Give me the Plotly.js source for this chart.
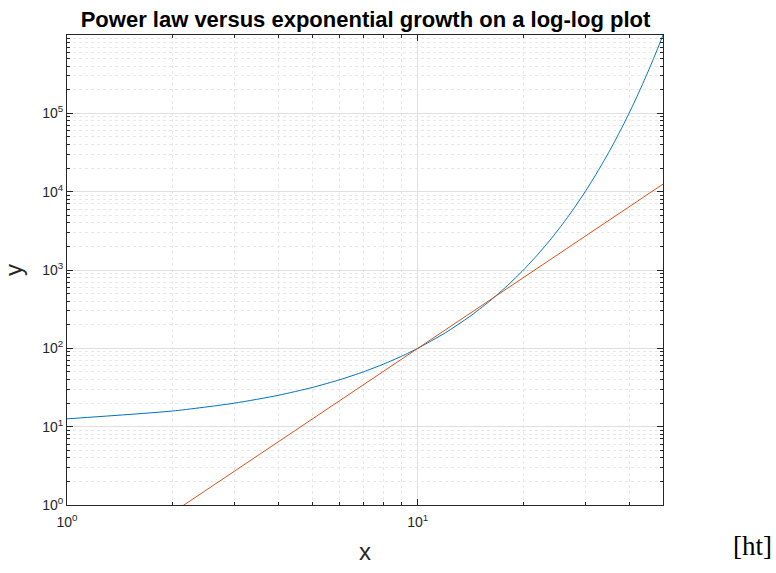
<!DOCTYPE html>
<html>
<head>
<meta charset="utf-8">
<script src="https://cdn.plot.ly/plotly-3.0.1.min.js"></script>
<style>html,body{margin:0;padding:0;background:#fff;}#chart{width:776px;height:573px;}</style>
</head>
<body>
<div id="chart"></div>
<script>
// Exponential growth series (blue)
const xExp = [1, 2, 3, 4, 5, 6, 7, 8, 9, 10, 12, 14, 16, 18, 20, 22, 24, 26, 28, 30, 32, 34, 36, 38, 40, 42, 44, 46, 48, 50];
const yExp = [12.59, 15.85, 19.95, 25.12, 31.62, 39.81, 50.12, 63.10, 79.43, 100, 158.5, 251.2, 398.1, 631.0, 1000, 1585, 2512, 3981, 6310, 10000, 15850, 25120, 39810, 63100, 100000, 158500, 251200, 398100, 631000, 1000000];
// Power law series (red), a straight line on log-log axes
const xPow = [1, 2, 5, 10, 20, 50];
const yPow = [0.1, 0.8, 12.5, 100, 800, 12500];
// Tick labels
const xTickVals = [1, 10];
const xTickText = ['10<sup>0</sup>', '10<sup>1</sup>'];
const yTickVals = [1, 10, 100, 1000, 10000, 100000];
const yTickText = ['10<sup>0</sup>', '10<sup>1</sup>', '10<sup>2</sup>', '10<sup>3</sup>', '10<sup>4</sup>', '10<sup>5</sup>'];

const axisColor = '#262626';
const font = 'Liberation Sans, Arial, Helvetica, sans-serif';

const traces = [
  {x: xExp, y: yExp, type: 'scatter', mode: 'lines', line: {color: '#0072BD', width: 1, shape: 'spline', smoothing: 0.6}, showlegend: false, hoverinfo: 'skip'},
  {x: xPow, y: yPow, type: 'scatter', mode: 'lines', line: {color: '#D95319', width: 1}, showlegend: false, hoverinfo: 'skip'}
];

const commonAxis = {
  type: 'log',
  showline: true, linecolor: axisColor, linewidth: 1, mirror: 'ticks',
  ticks: 'inside', ticklen: 6, tickcolor: axisColor,
  showgrid: true, gridcolor: '#e0e0e0', gridwidth: 1,
  zeroline: false,
  tickfont: {family: font, size: 14, color: axisColor},
  minor: {dtick: 'D1', ticks: 'inside', ticklen: 3, tickcolor: axisColor, showgrid: true, gridcolor: '#e8e8e8', griddash: 'dot', gridwidth: 1}
};

const layout = {
  width: 776, height: 573,
  margin: {l: 67, r: 113, t: 35, b: 68},
  paper_bgcolor: '#ffffff', plot_bgcolor: '#ffffff',
  title: {text: '<b>Power law versus exponential growth on a log-log plot</b>', font: {family: font, size: 22, color: '#000'}, x: 0.471, xanchor: 'center', y: 0.967, yanchor: 'middle'},
  xaxis: Object.assign({}, commonAxis, {
    range: [0, Math.log10(50)], tickvals: xTickVals, ticktext: xTickText, ticklabelstandoff: 4,
    title: {text: 'x', font: {family: font, size: 24, color: axisColor}, standoff: 14}
  }),
  yaxis: Object.assign({}, commonAxis, {
    range: [0, 6], tickvals: yTickVals, ticktext: yTickText,
    title: {text: 'y', font: {family: font, size: 24, color: axisColor}, standoff: 12}
  }),
  annotations: [
    {text: '[ht]', xref: 'paper', yref: 'paper', x: 1.186, y: -0.088, xanchor: 'right', yanchor: 'middle', showarrow: false, font: {family: 'Liberation Serif, DejaVu Serif, serif', size: 27, color: '#000'}}
  ]
};

Plotly.newPlot('chart', traces, layout, {staticPlot: true, displayModeBar: false});
</script>
</body>
</html>
